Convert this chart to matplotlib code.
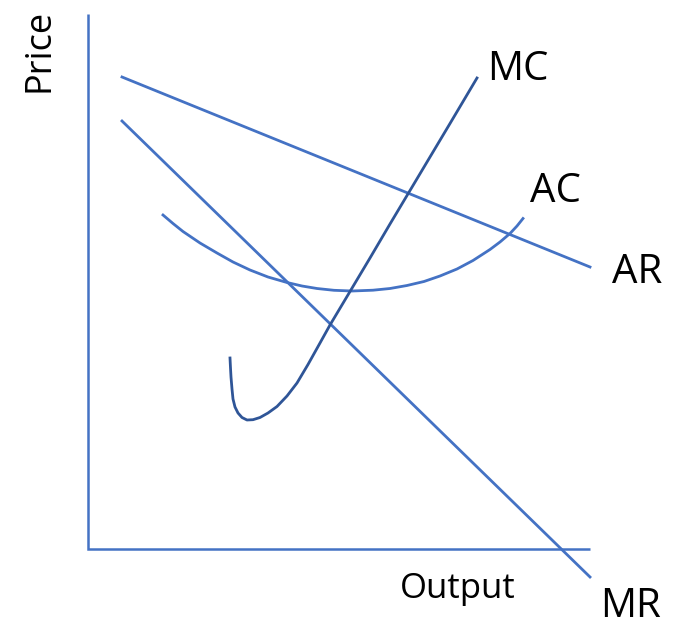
import matplotlib.pyplot as plt

# picture coordinates (pixels, y grows downward)
axis_x = [88, 88, 590]
axis_y = [14, 549, 549]

ar_x = [122, 590]
ar_y = [77, 267]

mr_x = [122, 590]
mr_y = [121, 577]

ac_x = [163, 173, 183, 200, 217, 233, 250, 268, 287, 302, 317, 334, 352,
        373, 390, 407, 424, 440, 457, 473, 490, 500, 510, 517, 523]
ac_y = [215, 223.5, 231.5, 243, 253, 262, 270, 277, 282.5, 286, 288.5, 290.3, 291,
        290.2, 288.5, 285.5, 281.5, 276, 269, 260.5, 249.5, 242, 233.5, 226, 218.5]

mc_x = [230, 230.5, 231, 232, 233, 235, 238, 242, 247, 253, 260, 268, 277,
        287, 297, 308, 320, 330, 350, 370, 390, 410, 430, 450, 477]
mc_y = [358, 368, 377, 389, 399, 407, 413, 417.5, 420, 419.7, 417.5, 413, 406.5,
        396, 383, 364.5, 343, 325, 291.5, 258, 224, 190.5, 157, 123.5, 78]

blue = '#4472C4'
dark = '#2F5597'

fig = plt.figure(figsize=(6.85, 6.29), dpi=100)
ax = fig.add_axes([0, 0, 1, 1])
ax.set_xlim(0, 685)
ax.set_ylim(629, 0)
ax.axis('off')

ax.plot(axis_x, axis_y, color=blue, lw=1.8, solid_capstyle='butt', solid_joinstyle='miter')
ax.plot(ar_x, ar_y, color=blue, lw=2)
ax.plot(mr_x, mr_y, color=blue, lw=2)
ax.plot(ac_x, ac_y, color=blue, lw=2, solid_joinstyle='round')
ax.plot(mc_x, mc_y, color=dark, lw=2, solid_joinstyle='round')

font = 'Open Sans'
ax.text(487, 80, 'MC', fontsize=29, family=font, ha='left', va='baseline')
ax.text(530, 202, 'AC', fontsize=29, family=font, ha='left', va='baseline')
ax.text(612, 283, 'AR', fontsize=29, family=font, ha='left', va='baseline')
ax.text(600, 617, 'MR', fontsize=29, family=font, ha='left', va='baseline')
ax.text(400, 598, 'Output', fontsize=25, family=font, ha='left', va='baseline')
ax.text(58, 50, 'Price', fontsize=26, family=font, rotation=90, ha='right', va='center')

fig.savefig('out.png', dpi=100)
